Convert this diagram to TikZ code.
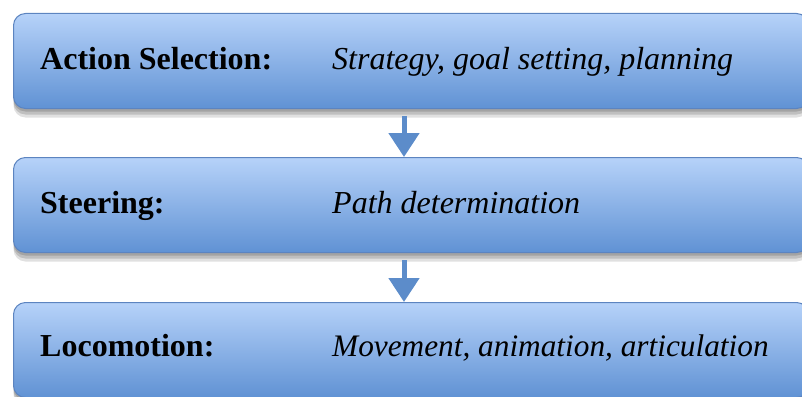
\documentclass[tikz,border=0pt]{standalone}
\usepackage{fontspec}
\setmainfont{Liberation Serif}
\usepackage{xcolor}
\usepackage{tikz}
\usetikzlibrary{
	arrows.meta,
	calc,
	positioning,
	shadows,
	}

\definecolor{boxtop}{RGB}{182,210,249}
\definecolor{boxbot}{RGB}{96,146,212}
\definecolor{boxline}{RGB}{92,132,192}
\definecolor{arrowblue}{RGB}{92,140,202}

\begin{document}
\begin{tikzpicture}[x=1pt, y=-1pt,
		layer/.style={draw=boxline, line width=1pt, rounded corners=12pt,
			top color=boxtop, bottom color=boxbot,
			minimum width=795pt, minimum height=95pt, anchor=north west,
			drop shadow={shadow xshift=0pt, shadow yshift=-9pt, opacity=0.12, fill=black},
			drop shadow={shadow xshift=0pt, shadow yshift=-6pt, opacity=0.15, fill=black},
			drop shadow={shadow xshift=0pt, shadow yshift=-3pt, opacity=0.15, fill=black}},
		head/.style={anchor=base west, inner sep=0pt, font=\fontsize{32}{38}\selectfont\bfseries},
		desc/.style={anchor=base west, inner sep=0pt, font=\fontsize{32}{38}\selectfont\itshape},
		flow/.style={draw=arrowblue, line width=5pt, -{Triangle[width=30pt,length=24pt]}, shorten <=7pt}]
			\useasboundingbox (0,0) rectangle (802,396);
			\clip (0,0) rectangle (802,396);

			\node[layer] (act) at (13,13) {};
			\node[layer] (steer) at (13,157) {};
			\node[layer] (loco) at (13,302) {};

			\node[head] (actname) at ([xshift=27pt,yshift=-8.5pt]act.west) {Action Selection:};
			\node[desc] (actdesc) at ([xshift=319pt,yshift=-8.5pt]act.west) {Strategy, goal setting, planning};
			\node[head] (steername) at ([xshift=27pt,yshift=-8.5pt]steer.west) {Steering:};
			\node[desc] (steerdesc) at ([xshift=319pt,yshift=-8.5pt]steer.west) {Path determination};
			\node[head] (loconame) at ([xshift=27pt,yshift=-6pt]loco.west) {Locomotion:};
			\node[desc, font=\fontsize{31.3}{38}\selectfont\itshape] (locodesc) at ([xshift=319pt,yshift=-6pt]loco.west) {Movement, animation, articulation};

			\draw[flow] ([xshift=-7pt]act.south) -- ([xshift=-7pt]steer.north);
			\draw[flow] ([xshift=-7pt]steer.south) -- ([xshift=-7pt]loco.north);

		\end{tikzpicture}
\end{document}
